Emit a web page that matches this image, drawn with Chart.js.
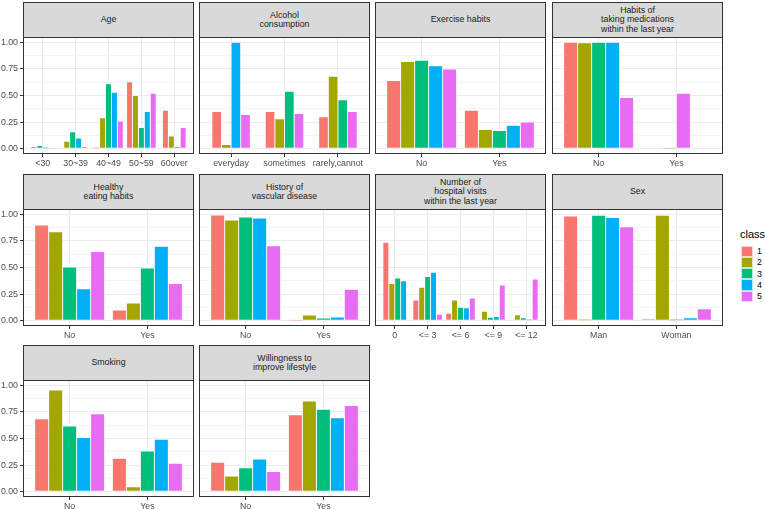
<!DOCTYPE html>
<html>
<head>
<meta charset="utf-8">
<script src="https://cdn.jsdelivr.net/npm/chart.js@4.4.1/dist/chart.umd.min.js"></script>
<style>
body { margin: 0; background: #fff; width: 765px; height: 510px; position: relative; overflow: hidden;
       font-family: "Liberation Sans", Arial, sans-serif; }
.strip { position: absolute; box-sizing: border-box; background: #d9d9d9; border: 1px solid #333;
         display: flex; align-items: center; justify-content: center; text-align: center;
         font-size: 8.8px; line-height: 9.5px; color: #1a1a1a; white-space: pre; }
canvas { position: absolute; }
.lg-title { position: absolute; left: 740px; top: 228px; font-size: 11px; color: #000; }
.lg-key { position: absolute; left: 741px; width: 11.6px; height: 11.3px; box-sizing: border-box;
          border: 0.6px solid rgba(255,255,255,0.7); }
.lg-lab { position: absolute; left: 757px; font-size: 8.8px; color: #000; }
</style>
</head>
<body>
<script>
// classes and colours (ggplot default hue palette)
const classes = ['1', '2', '3', '4', '5'];
const classColors = ['#F8766D', '#A3A500', '#00BF7D', '#00B0F6', '#E76BF3'];

// y axis tick labels (shared by all panels)
const yTicks = [0, 0.25, 0.5, 0.75, 1.0];

// one list of categories + one list of values per class, per facet (null = no bar)
const ageCats = ['<30', '30~39', '40~49', '50~59', '60over'];
const ageVals = [
    [null, null, 0.01, 0.63, 0.36],
    [0.02, 0.07, 0.29, 0.50, 0.12],
    [0.03, 0.16, 0.61, 0.20, null],
    [0.01, 0.10, 0.53, 0.35, 0.02],
    [0.004, 0.02, 0.26, 0.52, 0.20]
];

const alcoholCats = ['everyday', 'sometimes', 'rarely,cannot'];
const alcoholVals = [
    [0.35, 0.35, 0.30],
    [0.04, 0.28, 0.68],
    [null, 0.54, 0.46],
    [1.00, null, null],
    [0.32, 0.33, 0.35]
];

const exerciseCats = ['No', 'Yes'];
const exerciseVals = [
    [0.64, 0.36],
    [0.82, 0.18],
    [0.83, 0.17],
    [0.78, 0.22],
    [0.75, 0.25]
];

const medsCats = ['No', 'Yes'];
const medsVals = [
    [1.00, null],
    [0.995, 0.005],
    [1.00, null],
    [1.00, null],
    [0.48, 0.52]
];

const eatingCats = ['No', 'Yes'];
const eatingVals = [
    [0.90, 0.10],
    [0.835, 0.165],
    [0.505, 0.495],
    [0.30, 0.70],
    [0.65, 0.35]
];

const vascularCats = ['No', 'Yes'];
const vascularVals = [
    [0.994, 0.006],
    [0.947, 0.053],
    [0.975, 0.025],
    [0.966, 0.034],
    [0.705, 0.295]
];

const hospitalCats = ['0', '<= 3', '<= 6', '<= 9', '<= 12'];
const hospitalVals = [
    [0.737, 0.194, 0.069, null, null],
    [0.35, 0.313, 0.194, 0.088, 0.056],
    [0.40, 0.414, 0.125, 0.031, 0.028],
    [0.376, 0.455, 0.122, 0.04, 0.01],
    [null, 0.06, 0.213, 0.335, 0.392]
];

const sexCats = ['Man', 'Woman'];
const sexVals = [
    [0.984, 0.013],
    [0.01, 0.99],
    [0.99, 0.01],
    [0.969, 0.028],
    [0.884, 0.113]
];

const smokingCats = ['No', 'Yes'];
const smokingVals = [
    [0.685, 0.315],
    [0.955, 0.045],
    [0.617, 0.383],
    [0.508, 0.492],
    [0.733, 0.267]
];

const lifestyleCats = ['No', 'Yes'];
const lifestyleVals = [
    [0.277, 0.723],
    [0.147, 0.853],
    [0.225, 0.775],
    [0.306, 0.694],
    [0.19, 0.81]
];

const facets = [
    { title: 'Age', cats: ageCats, vals: ageVals },
    { title: 'Alcohol\nconsumption', cats: alcoholCats, vals: alcoholVals },
    { title: 'Exercise habits', cats: exerciseCats, vals: exerciseVals },
    { title: 'Habits of\ntaking medications\nwithin the last year', cats: medsCats, vals: medsVals },
    { title: 'Healthy\neating habits', cats: eatingCats, vals: eatingVals },
    { title: 'History of\nvascular disease', cats: vascularCats, vals: vascularVals },
    { title: 'Number of\nhospital visits\nwithin the last year', cats: hospitalCats, vals: hospitalVals },
    { title: 'Sex', cats: sexCats, vals: sexVals },
    { title: 'Smoking', cats: smokingCats, vals: smokingVals },
    { title: 'Willingness to\nimprove lifestyle', cats: lifestyleCats, vals: lifestyleVals }
];

// panel grid layout (pixels)
const colLeft = [23, 199, 375, 552];
const rowTop = [37, 209, 380];
const panelW = 171;
const panelH = 117;
const stripH = 35;
const topPad = 8;
const xAxisH = 17;
const yAxisW = 23;

const isMajor = v => Math.abs(v * 4 - Math.round(v * 4)) < 1e-6;

// border around each panel, like theme_bw
const panelBorder = {
    id: 'panelBorder',
    afterDraw(chart) {
        const { ctx, chartArea: a } = chart;
        ctx.save();
        ctx.strokeStyle = '#333333';
        ctx.lineWidth = 1;
        ctx.strokeRect(a.left + 0.5, a.top + 0.5, a.width - 1, a.height - 1);
        ctx.restore();
    }
};

facets.forEach((f, k) => {
    const col = k % 4;
    const row = Math.floor(k / 4);
    const first = col === 0;
    const yw = first ? yAxisW : 0;
    const n = f.cats.length;

    // strip
    const strip = document.createElement('div');
    strip.className = 'strip';
    strip.style.left = colLeft[col] + 'px';
    strip.style.top = (rowTop[row] - stripH) + 'px';
    strip.style.width = panelW + 'px';
    strip.style.height = (stripH + 1) + 'px';
    strip.textContent = f.title;
    document.body.appendChild(strip);

    // canvas
    const canvas = document.createElement('canvas');
    canvas.width = panelW + yw;
    canvas.height = topPad + panelH + xAxisH;
    canvas.style.left = (colLeft[col] - yw) + 'px';
    canvas.style.top = (rowTop[row] - topPad) + 'px';
    document.body.appendChild(canvas);

    // ggplot dodge: each bar 0.9/5 of a category unit, axis expanded 0.6 units each side
    const unitPx = panelW / (n + 0.2);
    const barPx = unitPx * 0.9 / classes.length;

    const minorTicks = [];
    for (let v = 0; v <= 1.0001; v += 0.125) minorTicks.push(+v.toFixed(3));

    new Chart(canvas, {
        type: 'bar',
        data: {
            datasets: classes.map((c, i) => ({
                label: c,
                data: f.cats.map((cat, j) => ({ x: j + 1, y: f.vals[i][j] })),
                backgroundColor: classColors[i],
                borderColor: 'rgba(255,255,255,0.65)',
                borderWidth: 0.8,
                borderSkipped: false,
                barThickness: barPx,
                skipNull: true
            }))
        },
        options: {
            responsive: false,
            animation: false,
            devicePixelRatio: 1,
            layout: { padding: { top: topPad, left: 0, right: 0, bottom: 0 } },
            plugins: { legend: { display: false }, tooltip: { enabled: false } },
            scales: {
                x: {
                    type: 'linear',
                    min: 0.4,
                    max: n + 0.6,
                    offset: false,
                    afterBuildTicks: s => { s.ticks = f.cats.map((c, j) => ({ value: j + 1 })); },
                    afterFit: s => { s.height = xAxisH; },
                    ticks: {
                        callback: (v, idx) => f.cats[idx],
                        autoSkip: false,
                        maxRotation: 0,
                        padding: 1,
                        color: '#4D4D4D',
                        font: { family: '"Liberation Sans", Arial, sans-serif', size: 8.8 }
                    },
                    grid: {
                        color: '#EBEBEB',
                        offset: false,
                        drawTicks: true,
                        tickLength: 3,
                        tickColor: '#333333'
                    },
                    border: { display: false }
                },
                y: {
                    min: -0.05,
                    max: 1.05,
                    afterBuildTicks: s => { s.ticks = minorTicks.map(v => ({ value: v })); },
                    afterFit: s => { s.width = yw; },
                    ticks: {
                        display: first,
                        callback: v => (isMajor(v) && yTicks.includes(+v.toFixed(2))) ? v.toFixed(2) : '',
                        padding: 2,
                        color: '#4D4D4D',
                        font: { family: '"Liberation Sans", Arial, sans-serif', size: 8.8 }
                    },
                    grid: {
                        color: ctx => isMajor(ctx.tick.value) ? '#EBEBEB' : '#F4F4F4',
                        drawTicks: first,
                        tickLength: 3,
                        tickColor: ctx => isMajor(ctx.tick.value) ? '#333333' : 'rgba(0,0,0,0)'
                    },
                    border: { display: false }
                }
            }
        },
        plugins: [panelBorder]
    });
});

// legend
const lgTitle = document.createElement('div');
lgTitle.className = 'lg-title';
lgTitle.textContent = 'class';
document.body.appendChild(lgTitle);
classes.forEach((c, i) => {
    const key = document.createElement('div');
    key.className = 'lg-key';
    key.style.top = (245.5 + i * 11.3) + 'px';
    key.style.background = classColors[i];
    document.body.appendChild(key);
    const lab = document.createElement('div');
    lab.className = 'lg-lab';
    lab.style.top = (246 + i * 11.3) + 'px';
    lab.textContent = c;
    document.body.appendChild(lab);
});
</script>
</body>
</html>
